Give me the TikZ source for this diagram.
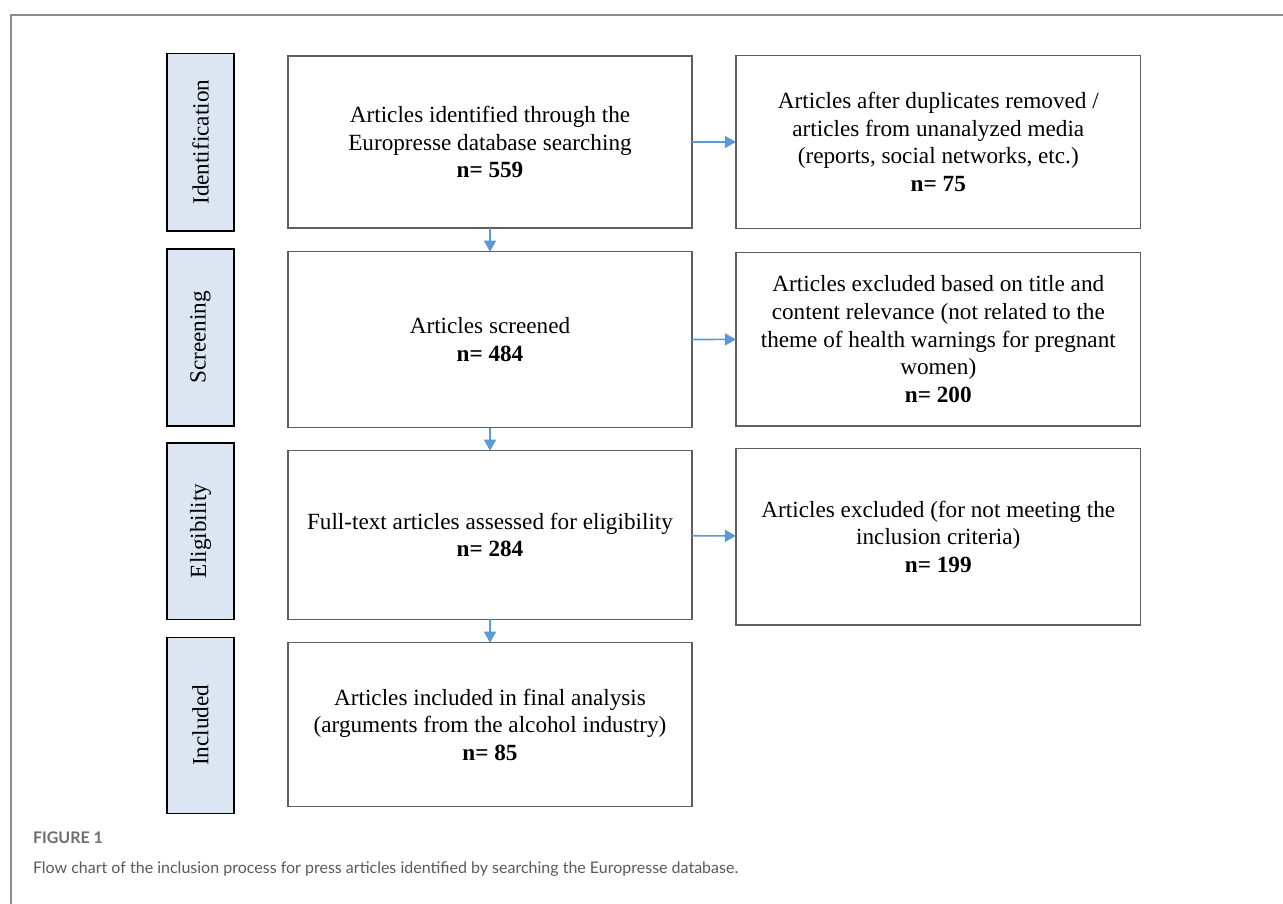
\documentclass[tikz,border=0pt]{standalone}
\usepackage{fontspec}
\setmainfont{Liberation Serif}
\newfontfamily\capfont{Lato}
\usetikzlibrary{arrows.meta}
\definecolor{sidefill}{HTML}{DCE6F2}
\definecolor{boxline}{HTML}{5F5F5F}
\definecolor{arrowblue}{HTML}{5B9BD5}
\definecolor{capgray}{HTML}{5A5A5A}
\definecolor{figgray}{HTML}{6E6E6E}
\definecolor{framegray}{HTML}{8C8C8C}
\begin{document}
\begin{tikzpicture}[x=1pt,y=-1pt,
  every node/.style={inner sep=0pt, outer sep=0pt},
  boxfont/.style={font=\fontsize{23.2}{27.6}\selectfont},
  sidebox/.style={boxfont, draw=black, line width=1.6pt, fill=sidefill, rotate=90, minimum height=67pt},
  mainbox/.style={boxfont, draw=boxline, line width=1.5pt, align=center, minimum width=404pt},
  flow/.style={draw=arrowblue, line width=1.6pt, -{Triangle[length=11pt,width=12pt]}},
  captext/.style={anchor=west, text=capgray}
]
\useasboundingbox (0,0) rectangle (1283,904);
\fill[white] (0,0) rectangle (1283,904);
\draw[framegray, line width=1.5pt] (11,904) -- (11,15) -- (1283,15);

% side labels
\node[sidebox, minimum width=177.7pt] (s1) at (200.5,142.2) {Identification};
\node[sidebox, minimum width=176.7pt] (s2) at (200.5,337.4) {Screening};
\node[sidebox, minimum width=176.6pt] (s3) at (200.5,531) {Eligibility};
\node[sidebox, minimum width=176pt] (s4) at (200.5,725.3) {Included};

% main column
\node[mainbox, minimum height=172pt] (m1) at (490,142) {Articles identified through the\\Europresse database searching\\\textbf{n= 559}};
\node[mainbox, minimum height=176pt] (m2) at (490,339.7) {Articles screened\\\textbf{n= 484}};
\node[mainbox, minimum height=168.6pt] (m3) at (490,535) {Full-text articles assessed for eligibility\\\textbf{n= 284}};
\node[mainbox, minimum height=164pt] (m4) at (490,724.7) {Articles included in final analysis\\(arguments from the alcohol industry)\\\textbf{n= 85}};

% right column
\node[mainbox, minimum width=404.7pt, minimum height=172.6pt] (r1) at (938.3,142) {Articles after duplicates removed /\\articles from unanalyzed media\\(reports, social networks, etc.)\\\textbf{n= 75}};
\node[mainbox, minimum width=404.7pt, minimum height=173.7pt] (r2) at (938.3,339.2) {Articles excluded based on title and\\content relevance (not related to the\\theme of health warnings for pregnant\\women)\\\textbf{n= 200}};
\node[mainbox, minimum width=404.7pt, minimum height=176.7pt] (r3) at (938.3,536.7) {Articles excluded (for not meeting the\\inclusion criteria)\\\textbf{n= 199}};

% connectors
\draw[flow] (m1.south) -- (m2.north);
\draw[flow] (m2.south) -- (m3.north);
\draw[flow] (m3.south) -- (m4.north);
\draw[flow] (m1) -- (r1);
\draw[flow] (m2) -- (r2);
\draw[flow] (m3) -- (r3);

% caption
\node[captext, text=figgray, font=\capfont\bfseries\fontsize{16}{19}\selectfont] (fig) at (33,838) {FIGURE 1};
\node[captext, font=\capfont\fontsize{16}{19}\selectfont] (cap) at (33,869) {Flow chart of the inclusion process for press articles identified by searching the Europresse database.};
\end{tikzpicture}
\end{document}
